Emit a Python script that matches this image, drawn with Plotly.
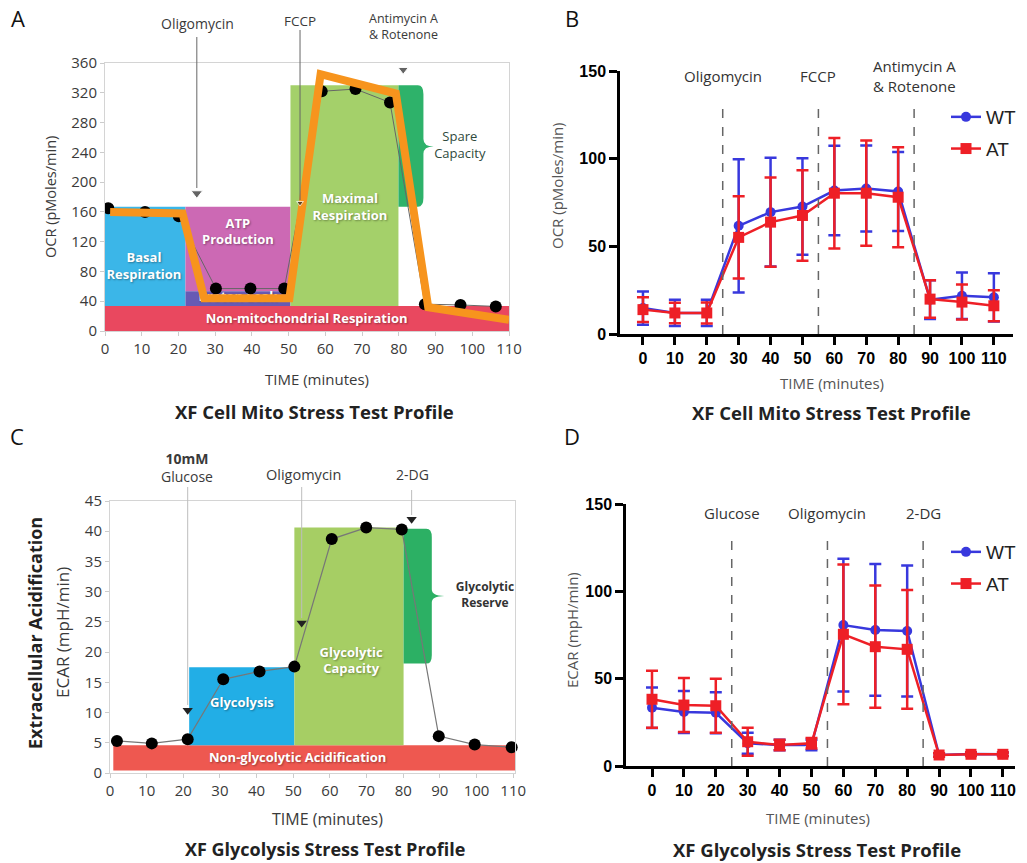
import plotly.graph_objects as go

W, H = 1027, 863

# ---------------- data ----------------
A_time = [0.9, 10.9, 20.1, 30.2, 39.6, 48.8, 59.0, 68.2, 77.6, 87.1, 96.8, 106.4]
A_ocr = [165, 160, 154, 57, 57, 57, 322, 325, 307, 36, 35, 33]
A_trend_time = [1.4, 21.1, 27.0, 50.2, 58.7, 79.2, 88.0, 110]
A_trend_ocr = [160, 158, 44, 44, 345, 319, 32, 15]

C_time = [1.9, 11.4, 21.2, 30.9, 40.8, 50.3, 60.5, 69.9, 79.6, 89.7, 99.5, 109.6]
C_ecar = [5.3, 4.9, 5.6, 15.5, 16.8, 17.6, 38.7, 40.6, 40.3, 6.1, 4.7, 4.25]

time = [0, 10, 20, 30, 40, 50, 60, 70, 80, 90, 100, 110]
time_labels = [str(t) for t in time]

B_wt = [14.8, 12.0, 12.0, 61.7, 69.5, 72.7, 81.8, 83.0, 81.3, 19.6, 21.8, 20.9]
B_wt_err = [9.5, 7.5, 7.5, 38.0, 31.0, 27.5, 25.5, 24.5, 22.5, 11.0, 13.3, 13.8]
B_at = [13.9, 12.0, 12.0, 55.1, 63.8, 67.6, 80.3, 80.3, 78.0, 19.9, 18.2, 16.1]
B_at_err = [7.0, 5.8, 6.0, 23.5, 25.5, 25.8, 31.5, 30.0, 28.5, 10.7, 10.0, 8.8]

D_wt = [33.4, 30.9, 30.5, 13.0, 12.0, 12.0, 80.7, 77.9, 77.3, 6.3, 6.9, 6.7]
D_wt_err = [11.6, 12.0, 11.7, 6.0, 3.0, 3.0, 38.0, 37.7, 37.5, 1.0, 1.0, 1.0]
D_at = [38.2, 34.9, 34.5, 13.9, 12.0, 13.0, 75.4, 68.3, 66.8, 6.3, 6.7, 6.7]
D_at_err = [16.3, 15.5, 15.5, 8.0, 3.0, 3.0, 40.0, 35.0, 34.0, 1.0, 1.0, 1.0]

B_inject_t = [25, 55, 85]
B_inject_names = ["Oligomycin", "FCCP", "Antimycin A<br>& Rotenone"]
D_inject_t = [25, 55, 85]
D_inject_names = ["Glucose", "Oligomycin", "2-DG"]

A_arrow_t = [25, 53.1, 81.2]
A_arrow_y = [185, 172, 351]
C_arrow_t = [21.2, 52.3, 82.3]
C_arrow_y = [10.4, 24.8, 42.0]

BLUE = "#3838DD"
RED = "#EE1F26"


def px(x):
    return x / W


def py(y):
    return 1 - y / H


fig = go.Figure()

# ---------------- panel A ----------------
white_lbl = dict(color="white", size=13, family="Open Sans", weight="bold",
                 shadow="1px 1px 2px rgba(0,0,0,0.35)")
fig.add_trace(go.Scatter(
    x=[10.6, 36.2, 66.7, 36.2, 54.9],
    y=[86, 132, 165, 44, 15.7],
    text=["Basal<br>Respiration", "ATP<br>Production", "Maximal<br>Respiration",
          "Proton Leak", "Non-mitochondrial Respiration"],
    mode="text", textfont=white_lbl, hoverinfo="skip", showlegend=False,
    xaxis="x", yaxis="y"))
fig.add_trace(go.Scatter(
    x=[96.6], y=[248], text=["Spare<br>Capacity"], mode="text",
    textfont=dict(color="#2f4a3c", size=13, family="Open Sans"),
    hoverinfo="skip", showlegend=False, xaxis="x", yaxis="y"))
fig.add_trace(go.Scatter(
    x=A_time, y=A_ocr, mode="lines+markers",
    line=dict(color="#666666", width=1),
    marker=dict(color="black", size=12),
    hoverinfo="skip", showlegend=False, xaxis="x", yaxis="y"))
fig.add_trace(go.Scatter(
    x=A_trend_time, y=A_trend_ocr, mode="lines",
    line=dict(color="#F7941D", width=8),
    hoverinfo="skip", showlegend=False, xaxis="x", yaxis="y"))
fig.add_trace(go.Scatter(
    x=A_arrow_t, y=A_arrow_y, mode="markers",
    marker=dict(symbol="triangle-down", size=[10, 6, 9], color="#222"),
    hoverinfo="skip", showlegend=False, xaxis="x", yaxis="y", cliponaxis=False))

# ---------------- panel C ----------------
fig.add_trace(go.Scatter(
    x=[36.0, 65.8, 51.2],
    y=[11.4, 18.4, 2.4],
    text=["Glycolysis", "Glycolytic<br>Capacity", "Non-glycolytic Acidification"],
    mode="text", textfont=white_lbl, hoverinfo="skip", showlegend=False,
    xaxis="x3", yaxis="y3"))
fig.add_trace(go.Scatter(
    x=[102.3], y=[29.3], text=["Glycolytic<br>Reserve"], mode="text",
    textfont=dict(color="#333", size=12, family="Open Sans", weight="bold"),
    hoverinfo="skip", showlegend=False, xaxis="x3", yaxis="y3", cliponaxis=False))
fig.add_trace(go.Scatter(
    x=C_time, y=C_ecar, mode="lines+markers",
    line=dict(color="#777777", width=1.2),
    marker=dict(color="black", size=12),
    hoverinfo="skip", showlegend=False, xaxis="x3", yaxis="y3", cliponaxis=False))
fig.add_trace(go.Scatter(
    x=C_arrow_t, y=C_arrow_y, mode="markers",
    marker=dict(symbol="triangle-down", size=9, color="#222"),
    hoverinfo="skip", showlegend=False, xaxis="x3", yaxis="y3", cliponaxis=False))

# ---------------- panels B and D ----------------
for (xa, ya, wt, wte, at, ate, lg) in [
        ("x2", "y2", B_wt, B_wt_err, B_at, B_at_err, "legend"),
        ("x4", "y4", D_wt, D_wt_err, D_at, D_at_err, "legend2")]:
    fig.add_trace(go.Scatter(
        x=time, y=wt, name="WT", mode="lines+markers",
        line=dict(color=BLUE, width=2.5),
        marker=dict(symbol="circle", size=10, color=BLUE),
        error_y=dict(type="data", array=wte, color=BLUE, thickness=2.5, width=6),
        xaxis=xa, yaxis=ya, legend=lg, legendgroup=lg + "wt"))
    fig.add_trace(go.Scatter(
        x=time, y=at, name="AT", mode="lines+markers",
        line=dict(color=RED, width=2.5),
        marker=dict(symbol="square", size=11, color=RED),
        error_y=dict(type="data", array=ate, color=RED, thickness=2.5, width=6),
        xaxis=xa, yaxis=ya, legend=lg, legendgroup=lg + "at"))

# ---------------- shapes ----------------
shapes = []


def rect(xr, yr, x0, x1, y0, y1, color):
    shapes.append(dict(type="rect", xref=xr, yref=yr, x0=x0, x1=x1, y0=y0, y1=y1,
                       fillcolor=color, line=dict(width=0), layer="below"))


# A regions
rect("x", "y", 0, 110, 0, 33.5, "#E9485F")
rect("x", "y", 0, 21.9, 33.5, 167, "#3BB6E8")
rect("x", "y", 21.9, 50.5, 53.5, 167, "#CC69B4")
rect("x", "y", 21.9, 50.5, 33.5, 53.5, "#675AB4")
rect("x", "y", 50.5, 79.9, 33.5, 330, "#A4D06A")
shapes.append(dict(type="path", xref="x", yref="y", layer="below",
                   path="M 79.9,330 L 85.2,330 Q 86.7,330 86.7,318 L 86.7,258 "
                        "Q 86.7,248 89.5,248 Q 86.7,248 86.7,238 L 86.7,179 "
                        "Q 86.7,167 85.2,167 L 79.9,167 Z",
                   fillcolor="#2EB26A", line=dict(width=0)))
# C regions
rect("x3", "y3", 0.9, 110.5, 0.4, 4.6, "#EE5850")
rect("x3", "y3", 21.6, 50.3, 4.6, 17.5, "#22AEE6")
rect("x3", "y3", 50.3, 80.1, 4.6, 40.6, "#A6CE64")
shapes.append(dict(type="path", xref="x3", yref="y3", layer="below",
                   path="M 80.1,40.4 L 86.3,40.4 Q 87.8,40.4 87.8,39.0 L 87.8,30.4 "
                        "Q 87.8,29.3 91.2,29.3 Q 87.8,29.3 87.8,28.2 L 87.8,19.5 "
                        "Q 87.8,18.1 86.3,18.1 L 80.1,18.1 Z",
                   fillcolor="#2CB064", line=dict(width=0)))

# arrow lines (A dark, C light)
for xv, ytop, ybot in zip(A_arrow_t[:2], [37, 30], [188, 200]):
    shapes.append(dict(type="line", xref="x", yref="paper", x0=xv, x1=xv,
                       y0=py(ybot), y1=py(ytop), line=dict(color="#666", width=1)))
for xv, ytop, ybot in zip(C_arrow_t, [487, 487, 490], [705, 618, 515]):
    shapes.append(dict(type="line", xref="x3", yref="paper", x0=xv, x1=xv,
                       y0=py(ybot), y1=py(ytop), line=dict(color="#bdbdbd", width=1)))

# dashed injection lines B and D
for xa, ya, ts in [("x2", "y2", B_inject_t), ("x4", "y4", D_inject_t)]:
    for t in ts:
        shapes.append(dict(type="line", xref=xa, yref=ya, x0=t, x1=t, y0=0, y1=130,
                           line=dict(color="#666", width=1.5, dash="dash")))

# ---------------- annotations ----------------
anns = []


def ann(text, x, y, size, color="#333", family="Open Sans", bold=False, angle=0,
        xanchor="center"):
    anns.append(dict(text=text, x=px(x), y=py(y), xref="paper", yref="paper",
                     showarrow=False, xanchor=xanchor, yanchor="middle",
                     textangle=angle,
                     font=dict(size=size, color=color, family=family,
                               weight="bold" if bold else "normal")))


# panel letters
ann("A", 18, 18, 22, "#111", "Open Sans")
ann("B", 572, 18, 22, "#111", "Open Sans")
ann("C", 17, 436, 22, "#111", "Open Sans")
ann("D", 572, 436, 22, "#111", "Open Sans")

# A
ann("Oligomycin", 197, 24, 14, "#3a3a3a")
ann("FCCP", 300, 21, 13.5, "#3a3a3a")
ann("Antimycin A<br>& Rotenone", 403, 27, 12.5, "#3a3a3a")
ann("OCR (pMoles/min)", 50, 197, 14.5, "#3a3a3a", angle=-90)
ann("TIME (minutes)", 317, 379, 15, "#3a3a3a")
ann("XF Cell Mito Stress Test Profile", 314, 411, 18.5, "#222", bold=True)

# B
for t, name in zip(B_inject_t, B_inject_names):
    xpix = 643 + t * 3.19
    ann(name, xpix, 76, 15, "#333")
ann("OCR (pMoles/min)", 557, 186, 15, "#555", angle=-90)
ann("TIME (minutes)", 832, 383, 15, "#555")
ann("XF Cell Mito Stress Test Profile", 831, 412, 18.5, "#222", bold=True)

# C
ann("<b>10mM</b><br>Glucose", 187, 467, 14, "#3a3a3a")
ann("Oligomycin", 303, 474, 14.5, "#3a3a3a")
ann("2-DG", 412, 474, 14, "#3a3a3a")
ann("Extracellular Acidification", 35, 633, 18, "#222", bold=True, angle=-90)
ann("ECAR (mpH/min)", 62, 633, 17, "#3a3a3a", angle=-90)
ann("TIME (minutes)", 327, 819, 16, "#3a3a3a")
ann("XF Glycolysis Stress Test Profile", 325, 849, 18, "#222", bold=True)

# D
for t, name in zip(D_inject_t, D_inject_names):
    xpix = 652 + t * 3.19
    ann(name, xpix, 513, 15, "#333")
ann("ECAR (mpH/min)", 572, 630, 15, "#555", angle=-90)
ann("TIME (minutes)", 818, 818, 15, "#555")
ann("XF Glycolysis Stress Test Profile", 817, 849, 18.5, "#222", bold=True)

# ---------------- axes ----------------
soft_axis = dict(showline=True, mirror=True, linecolor="#d4d4d4", linewidth=1,
                 ticks="outside", ticklen=4, tickcolor="#cccccc", showgrid=False,
                 zeroline=False, fixedrange=True,
                 tickfont=dict(family="Open Sans", size=15, color="#3a3a3a"))
bold_axis = dict(showline=True, mirror=False, linecolor="black", linewidth=2.5,
                 ticks="outside", ticklen=8, tickwidth=2.5, tickcolor="black",
                 showgrid=False, zeroline=False, fixedrange=True,
                 tickfont=dict(family="Arial", size=16, color="black", weight="bold"))

layout = dict(
    width=W, height=H, margin=dict(l=0, r=0, t=0, b=0, autoexpand=False),
    paper_bgcolor="white", plot_bgcolor="white",
    xaxis=dict(domain=[px(105), px(509)], range=[0, 110], anchor="y",
               tickvals=time, ticktext=time_labels, **soft_axis),
    yaxis=dict(domain=[py(331), py(63)], range=[0, 360], anchor="x",
               tickvals=list(range(0, 361, 40)), **soft_axis),
    xaxis3=dict(domain=[px(110), px(515)], range=[0, 110.5], anchor="y3",
                tickvals=time, ticktext=time_labels, **soft_axis),
    yaxis3=dict(domain=[py(773), py(501)], range=[0, 45], anchor="x3",
                tickvals=list(range(0, 46, 5)), **soft_axis),
    xaxis2=dict(domain=[px(620), px(1013)], range=[-7.2, 116], anchor="y2",
                tickvals=time, ticktext=time_labels, **bold_axis),
    yaxis2=dict(domain=[py(334), py(71)], range=[0, 150], anchor="x2",
                tickvals=[0, 50, 100, 150], **bold_axis),
    xaxis4=dict(domain=[px(626), px(1015)], range=[-8.15, 113.8], anchor="y4",
                tickvals=time, ticktext=time_labels, **bold_axis),
    yaxis4=dict(domain=[py(766), py(504)], range=[0, 150], anchor="x4",
                tickvals=[0, 50, 100, 150], **bold_axis),
    legend=dict(x=px(946), y=py(98), xanchor="left", yanchor="top",
                font=dict(family="Arial", size=19, color="#222"),
                bgcolor="rgba(0,0,0,0)", tracegroupgap=4, itemwidth=30),
    legend2=dict(x=px(946), y=py(533), xanchor="left", yanchor="top",
                 font=dict(family="Arial", size=19, color="#222"),
                 bgcolor="rgba(0,0,0,0)", tracegroupgap=4, itemwidth=30),
    shapes=shapes, annotations=anns,
)
fig.update_layout(**layout)

fig.write_html("out.html", config={"displayModeBar": False},
               post_script="document.body.style.margin='0px';"
                           "document.body.style.overflow='hidden';")
